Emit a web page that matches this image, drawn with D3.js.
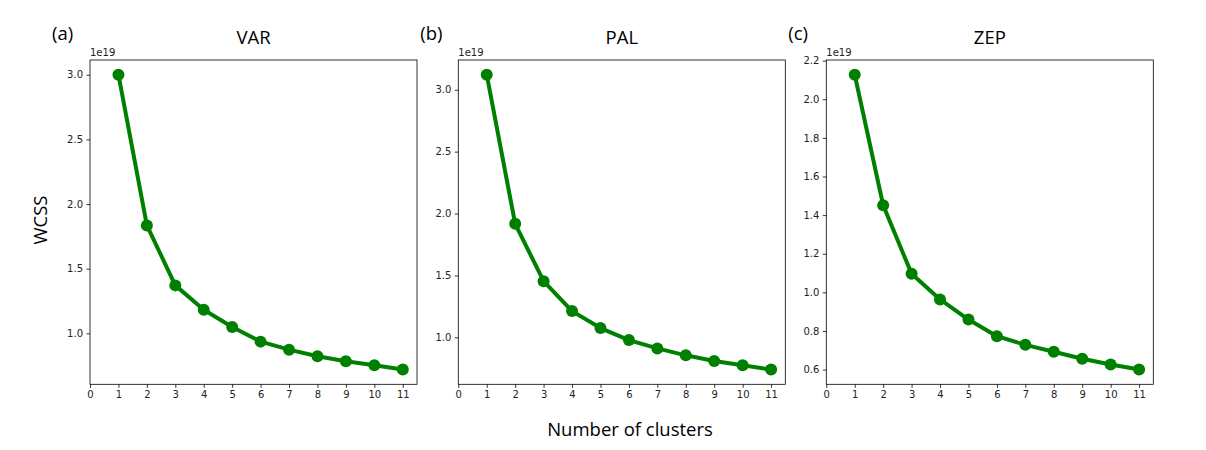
<!DOCTYPE html>
<html>
<head>
<meta charset="utf-8">
<script src="https://cdn.jsdelivr.net/npm/d3@7"></script>
<style>
  body { margin: 0; background: #fff; }
  svg { font-family: "DejaVu Sans", sans-serif; }
  .lbl { font-family: "Open Sans", "DejaVu Sans", sans-serif; }
</style>
</head>
<body>
<div id="chart"></div>
<script>
let width = 1206;
let height = 450;

// values are in units of 1e19
let clusters = [1, 2, 3, 4, 5, 6, 7, 8, 9, 10, 11];
let varWcss = [3.00, 1.835, 1.371, 1.183, 1.049, 0.936, 0.874, 0.823, 0.784, 0.753, 0.720];
let palWcss = [3.121, 1.917, 1.454, 1.212, 1.075, 0.978, 0.911, 0.855, 0.809, 0.774, 0.740];
let zepWcss = [2.127, 1.451, 1.096, 0.963, 0.859, 0.773, 0.728, 0.692, 0.656, 0.626, 0.600];

let panelTitles = ["VAR", "PAL", "ZEP"];
let panelTags = ["(a)", "(b)", "(c)"];
let yTicks = [
    [1.0, 1.5, 2.0, 2.5, 3.0],
    [1.0, 1.5, 2.0, 2.5, 3.0],
    [0.6, 0.8, 1.0, 1.2, 1.4, 1.6, 1.8, 2.0, 2.2]
];
let xTicks = [0, 1, 2, 3, 4, 5, 6, 7, 8, 9, 10, 11];
let series = [varWcss, palWcss, zepWcss];

let panelLeft = [90, 458.3, 826.3];
let panelTop = 60;
let panelW = 327;
let panelH = 324.3;

let svg = d3.select("#chart")
    .append("svg")
    .attr("width", width)
    .attr("height", height);

series.forEach(function(values, i) {
    let g = svg.append("g")
        .attr("transform", "translate(" + panelLeft[i] + "," + panelTop + ")");

    let xScale = d3.scaleLinear()
        .domain([0, 11.5])
        .range([0, panelW]);

    // matplotlib style 5% padding on y
    let lo = d3.min(values), hi = d3.max(values);
    let pad = (hi - lo) * 0.05;
    let yScale = d3.scaleLinear()
        .domain([lo - pad, hi + pad])
        .range([panelH, 0]);

    let xAxis = d3.axisBottom(xScale)
        .tickValues(xTicks)
        .tickFormat(d3.format("d"))
        .tickSize(3.5)
        .tickSizeOuter(0)
        .tickPadding(3.5);

    let yAxis = d3.axisLeft(yScale)
        .tickValues(yTicks[i])
        .tickFormat(d3.format(".1f"))
        .tickSize(3.5)
        .tickSizeOuter(0)
        .tickPadding(3.5);

    g.append("g")
        .attr("transform", "translate(0," + panelH + ")")
        .call(xAxis);
    g.append("g")
        .call(yAxis);

    g.selectAll(".domain").remove();
    g.selectAll(".tick line").attr("stroke", "#000").attr("stroke-width", 0.8);
    g.selectAll(".tick text")
        .attr("fill", "#222")
        .style("font-size", "10px")
        .style("font-family", "DejaVu Sans, sans-serif");

    // frame
    g.append("rect")
        .attr("x", 0)
        .attr("y", 0)
        .attr("width", panelW)
        .attr("height", panelH)
        .attr("fill", "none")
        .attr("stroke", "#000")
        .attr("stroke-width", 0.8);

    let pts = clusters.map(function(c, k) { return [c, values[k]]; });

    let line = d3.line()
        .x(function(d) { return xScale(d[0]); })
        .y(function(d) { return yScale(d[1]); });

    g.append("path")
        .datum(pts)
        .attr("d", line)
        .attr("fill", "none")
        .attr("stroke", "#008000")
        .attr("stroke-width", 4)
        .attr("stroke-linejoin", "round");

    g.selectAll(".pt")
        .data(pts)
        .enter()
        .append("circle")
        .attr("class", "pt")
        .attr("cx", function(d) { return xScale(d[0]); })
        .attr("cy", function(d) { return yScale(d[1]); })
        .attr("r", 6)
        .attr("fill", "#008000");

    // offset text
    g.append("text")
        .attr("x", 0)
        .attr("y", -4)
        .style("font-size", "10px")
        .attr("fill", "#222")
        .text("1e19");

    // title
    g.append("text")
        .attr("class", "lbl")
        .attr("x", panelW / 2)
        .attr("y", -16)
        .attr("text-anchor", "middle")
        .style("font-size", "18.5px")
        .text(panelTitles[i]);

    // panel tag
    g.append("text")
        .attr("class", "lbl")
        .attr("x", -38)
        .attr("y", -20)
        .style("font-size", "18.5px")
        .text(panelTags[i]);
});

svg.append("text")
    .attr("class", "lbl")
    .attr("transform", "translate(47,220) rotate(-90)")
    .attr("text-anchor", "middle")
    .style("font-size", "18.5px")
    .text("WCSS");

svg.append("text")
    .attr("class", "lbl")
    .attr("x", 630)
    .attr("y", 436)
    .attr("text-anchor", "middle")
    .style("font-size", "18.5px")
    .text("Number of clusters");
</script>
</body>
</html>
